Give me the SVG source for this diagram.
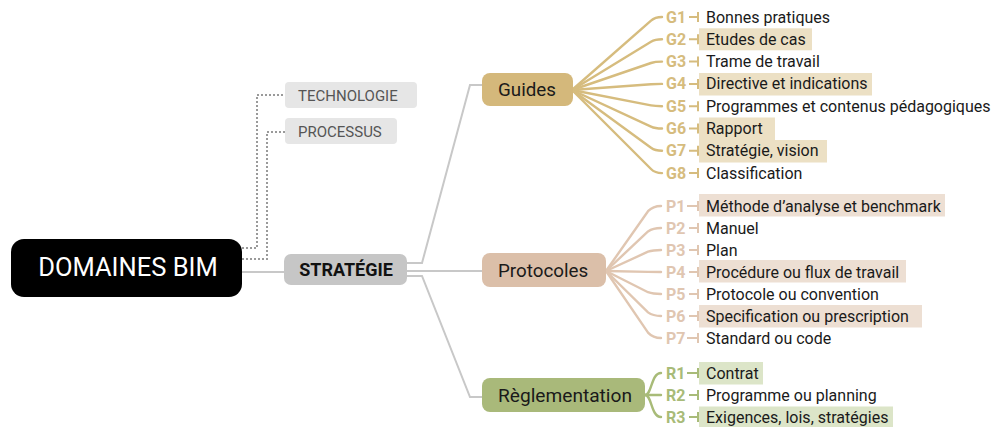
<svg xmlns="http://www.w3.org/2000/svg" width="996" height="427" viewBox="0 0 996 427">
<style>
  text { font-family: Roboto, "Liberation Sans", sans-serif; }
  .root-t { font-size: 25.5px; fill: #ffffff; }
  .side-b { fill: #e6e6e6; }
  .side-t { font-size: 15px; fill: #555555; }
  .strat-t { font-size: 18px; font-weight: bold; fill: #111111; }
  .cat-t { font-size: 18.8px; fill: #1a1a1a; }
  .item { font-size: 16px; fill: #1a1a1a; }
  .lbl { font-size: 16px; font-weight: bold; }
  .gl { fill: #d6bc7e; } .gs { stroke: #d6bc7e; } .gh { fill: #ece0c4; }
  .pl { fill: #e0c6b1; } .ps { stroke: #e0c6b1; } .ph { fill: #eddfd3; }
  .rl { fill: #a8bb78; } .rs { stroke: #a8bb78; } .rh { fill: #dce5c8; }
  .tick { fill: none; stroke-width: 2; }
  .gray { fill: none; stroke: #c8c8c8; stroke-width: 2; }
  .dot { fill: none; stroke: #9a9a9a; stroke-width: 2; stroke-dasharray: 2 2; }
  .fan { fill: none; stroke-width: 2.4; stroke-linecap: round; }
</style>

<g id="connectors">
  <path class="dot" d="M242,248 H257 V95 H285"/>
  <path class="dot" d="M242,259 H267 V132 H285"/>
  <path class="gray" d="M242,272 H284"/>
  <path class="gray" d="M407,263 H422 L470,85 H482"/>
  <path class="gray" d="M407,271 H482"/>
  <path class="gray" d="M407,276 H422 L470,397 H482"/>
  <g class="fan gs">
    <path d="M572,90 L651,20.7 Q655,17 662,17"/>
    <path d="M572,90 L651,41.8 Q655,39.3 662,39.3"/>
    <path d="M572,90 L651,63 Q655,61.6 662,61.6"/>
    <path d="M572,90 L651,84.2 Q655,83.9 662,83.9"/>
    <path d="M572,90 L651,105.4 Q655,106.2 662,106.2"/>
    <path d="M572,90 L651,126.6 Q655,128.5 662,128.5"/>
    <path d="M572,90 L651,147.8 Q655,150.8 662,150.8"/>
    <path d="M572,90 L651,169 Q655,173.1 662,173.1"/>
  </g>
  <g class="fan ps">
    <path d="M606,271 L648,211.2 Q653,206 661,206"/>
    <path d="M606,271 L648,231.4 Q653,228 661,228"/>
    <path d="M606,271 L648,251.7 Q653,250 661,250"/>
    <path d="M606,271 L648,271.9 Q653,272 661,272"/>
    <path d="M606,271 L648,292.2 Q653,294 661,294"/>
    <path d="M606,271 L648,312.4 Q653,316 661,316"/>
    <path d="M606,271 L648,332.6 Q653,338 661,338"/>
  </g>
  <g class="fan rs">
    <path d="M645,395 C652,395 651,373 661,373"/>
    <path d="M645,395 L661,395"/>
    <path d="M645,395 C652,395 651,417 661,417"/>
  </g>
</g>

<g id="domaines-bim">
  <rect x="11" y="239" width="231" height="58" rx="13" fill="#000000"/>
  <text class="root-t" x="128" y="276" text-anchor="middle">DOMAINES BIM</text>
</g>
<g id="technologie">
  <rect class="side-b" x="285" y="82" width="132" height="26" rx="4"/>
  <text class="side-t" x="298" y="101">TECHNOLOGIE</text>
</g>
<g id="processus">
  <rect class="side-b" x="285" y="118" width="112" height="26" rx="4"/>
  <text class="side-t" x="298" y="137">PROCESSUS</text>
</g>
<g id="strategie">
  <rect x="284" y="254" width="123" height="31" rx="7" fill="#c6c6c6"/>
  <text class="strat-t" x="346" y="276" text-anchor="middle">STRATÉGIE</text>
</g>
<g id="guides">
  <rect x="482" y="73" width="91" height="33" rx="8" fill="#d4b87b"/>
  <text class="cat-t" x="498" y="95.5">Guides</text>
</g>
<g id="protocoles">
  <rect x="482" y="253" width="124" height="34" rx="8" fill="#dbbfa9"/>
  <text class="cat-t" x="498" y="276.5">Protocoles</text>
</g>
<g id="reglementation">
  <rect x="482" y="378" width="163" height="34" rx="8" fill="#a9b97a"/>
  <text class="cat-t" x="498" y="402" textLength="134" lengthAdjust="spacingAndGlyphs">Règlementation</text>
</g>

<g id="G1"><text class="lbl gl" x="666" y="22.5">G1</text><path class="tick gs" d="M689,17 H698 M698,12 V22"/><text class="item" x="706" y="22.5">Bonnes pratiques</text></g>
<g id="G2"><rect class="gh" x="699" y="28.3" width="113" height="22"/><text class="lbl gl" x="666" y="44.8">G2</text><path class="tick gs" d="M689,39.3 H698 M698,34.3 V44.3"/><text class="item" x="706" y="44.8">Etudes de cas</text></g>
<g id="G3"><text class="lbl gl" x="666" y="67.1">G3</text><path class="tick gs" d="M689,61.6 H698 M698,56.6 V66.6"/><text class="item" x="706" y="67.1">Trame de travail</text></g>
<g id="G4"><rect class="gh" x="699" y="73" width="173" height="22.5"/><text class="lbl gl" x="666" y="89.4">G4</text><path class="tick gs" d="M689,83.9 H698 M698,78.9 V88.9"/><text class="item" x="706" y="89.4">Directive et indications</text></g>
<g id="G5"><text class="lbl gl" x="666" y="111.7">G5</text><path class="tick gs" d="M689,106.2 H698 M698,101.2 V111.2"/><text class="item" x="706" y="111.7">Programmes et contenus pédagogiques</text></g>
<g id="G6"><rect class="gh" x="699" y="117.5" width="76" height="22.5"/><text class="lbl gl" x="666" y="134">G6</text><path class="tick gs" d="M689,128.5 H698 M698,123.5 V133.5"/><text class="item" x="706" y="134">Rapport</text></g>
<g id="G7"><rect class="gh" x="699" y="140" width="128" height="22.5"/><text class="lbl gl" x="666" y="156.3">G7</text><path class="tick gs" d="M689,150.8 H698 M698,145.8 V155.8"/><text class="item" x="706" y="156.3">Stratégie, vision</text></g>
<g id="G8"><text class="lbl gl" x="666" y="178.6">G8</text><path class="tick gs" d="M689,173.1 H698 M698,168.1 V178.1"/><text class="item" x="706" y="178.6">Classification</text></g>

<g id="P1"><rect class="ph" x="699" y="194" width="246" height="22.5"/><text class="lbl pl" x="666" y="211.5">P1</text><path class="tick ps" d="M687,206 H698 M698,201 V211"/><text class="item" x="706" y="211.5">Méthode d’analyse et benchmark</text></g>
<g id="P2"><text class="lbl pl" x="666" y="233.5">P2</text><path class="tick ps" d="M689,228 H698 M698,223 V233"/><text class="item" x="706" y="233.5">Manuel</text></g>
<g id="P3"><text class="lbl pl" x="666" y="255.5">P3</text><path class="tick ps" d="M689,250 H698 M698,245 V255"/><text class="item" x="706" y="255.5">Plan</text></g>
<g id="P4"><rect class="ph" x="699" y="260" width="207" height="22.5"/><text class="lbl pl" x="666" y="277.5">P4</text><path class="tick ps" d="M689,272 H698 M698,267 V277"/><text class="item" x="706" y="277.5">Procédure ou flux de travail</text></g>
<g id="P5"><text class="lbl pl" x="666" y="299.5">P5</text><path class="tick ps" d="M689,294 H698 M698,289 V299"/><text class="item" x="706" y="299.5">Protocole ou convention</text></g>
<g id="P6"><rect class="ph" x="699" y="305" width="223" height="22.5"/><text class="lbl pl" x="666" y="321.5">P6</text><path class="tick ps" d="M689,316 H698 M698,311 V321"/><text class="item" x="706" y="321.5">Specification ou prescription</text></g>
<g id="P7"><text class="lbl pl" x="666" y="343.5">P7</text><path class="tick ps" d="M687,338 H698 M698,333 V343"/><text class="item" x="706" y="343.5">Standard ou code</text></g>

<g id="R1"><rect class="rh" x="699" y="362" width="64" height="22.5"/><text class="lbl rl" x="666" y="378.5">R1</text><path class="tick rs" d="M687,373 H698 M698,368 V378"/><text class="item" x="706" y="378.5">Contrat</text></g>
<g id="R2"><text class="lbl rl" x="666" y="400.5">R2</text><path class="tick rs" d="M689,395 H698 M698,390 V400"/><text class="item" x="706" y="400.5">Programme ou planning</text></g>
<g id="R3"><rect class="rh" x="699" y="406.5" width="194" height="22.5"/><text class="lbl rl" x="666" y="422.5">R3</text><path class="tick rs" d="M689,417 H698 M698,412 V422"/><text class="item" x="706" y="422.5">Exigences, lois, stratégies</text></g>
</svg>
